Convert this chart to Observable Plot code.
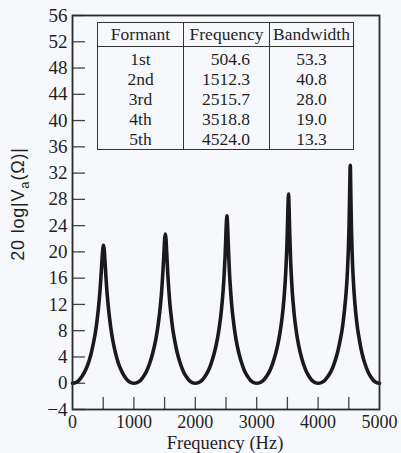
<!DOCTYPE html>
<html>
<head>
<meta charset="utf-8">
<script src="https://cdn.jsdelivr.net/npm/d3@7"></script>
<script src="https://cdn.jsdelivr.net/npm/@observablehq/plot@0.6"></script>
<style>
  html, body { margin: 0; padding: 0; background: #f6f8fc; }
  #wrap { position: relative; width: 401px; height: 453px; overflow: hidden; }
  #tbl {
    position: absolute; left: 97px; top: 22px;
    border-collapse: collapse; table-layout: fixed; width: 256px;
    font-family: "Liberation Serif", serif; font-size: 17.5px; color: #1f1f1f;
    background: #f6f8fc;
  }
  #tbl th, #tbl td { padding: 0; border-left: 1.5px solid #333; border-right: 1.5px solid #333; }
  #tbl th { font-weight: normal; height: 23px; line-height: 23px; border-top: 1.5px solid #333; border-bottom: 1.5px solid #333; text-align: center; }
  #tbl td { line-height: 20px; height: 20px; }
  #tbl tbody tr:first-child td { padding-top: 2px; }
  #tbl tbody tr:last-child td { border-bottom: 1.5px solid #333; }
  #tbl td.c0 { text-align: center; }
  #tbl td.c1 { text-align: right; padding-right: 19px; }
  #tbl td.c2 { text-align: center; }
</style>
</head>
<body>
<div id="wrap"></div>
<script>
// ---- data ----
const tableHeaders = ["Formant", "Frequency", "Bandwidth"];
const formantNames = ["1st", "2nd", "3rd", "4th", "5th"];
const formantFreqs = [504.6, 1512.3, 2515.7, 3518.8, 4524.0];
const formantBandwidths = [53.3, 40.8, 28.0, 19.0, 13.3];

const yTicks = [-4, 0, 4, 8, 12, 16, 20, 24, 28, 32, 36, 40, 44, 48, 52, 56];
const xTickMarks = [500, 1000, 1500, 2000, 2500, 3000, 3500, 4000, 4500];
const xTickLabels = [0, 1000, 2000, 3000, 4000, 5000];
const xTitle = "Frequency (Hz)";

// curve: frequency (Hz) and level (dB)
const freqHz = [
  0, 51, 101, 151, 202, 252, 303, 353, 379, 404, 424, 439, 454, 464, 474, 484, 495, 504.6,
  515, 524, 534, 544, 554, 569, 584, 604, 629, 653, 703, 752, 802, 851, 901, 951,
  1000, 1051, 1103, 1154, 1205, 1256, 1307, 1359, 1384, 1410, 1430, 1446, 1461, 1471, 1482, 1492, 1502, 1512.3,
  1522, 1532, 1542, 1551, 1561, 1576, 1590, 1610, 1634, 1659, 1707, 1756, 1805, 1854, 1903, 1951,
  2000, 2052, 2103, 2155, 2206, 2258, 2309, 2361, 2387, 2413, 2433, 2449, 2464, 2474, 2485, 2495, 2505, 2515.7,
  2525, 2535, 2545, 2554, 2564, 2579, 2593, 2613, 2637, 2661, 2709, 2758, 2806, 2855, 2903, 2952,
  3000, 3052, 3104, 3156, 3208, 3259, 3311, 3363, 3389, 3415, 3436, 3451, 3467, 3477, 3488, 3498, 3508, 3518.8,
  3528, 3538, 3548, 3557, 3567, 3581, 3596, 3615, 3639, 3663, 3711, 3759, 3808, 3856, 3904, 3952,
  4000, 4052, 4105, 4157, 4210, 4262, 4314, 4367, 4393, 4419, 4440, 4456, 4472, 4482, 4493, 4503, 4513, 4524,
  4534, 4543, 4553, 4562, 4572, 4586, 4600, 4619, 4643, 4667, 4714, 4762, 4810, 4857, 4905, 4952, 5000
];
const levelDb = [
  0, 0.1, 0.4, 1.0, 1.8, 2.9, 4.5, 6.7, 8.1, 9.9, 11.6, 13.1, 14.9, 16.3, 17.8, 19.3, 20.5, 21.0,
  20.5, 19.3, 17.8, 16.3, 14.9, 13.1, 11.6, 9.9, 8.1, 6.7, 4.5, 2.9, 1.8, 1.0, 0.4, 0.1,
  0, 0.1, 0.4, 1.0, 1.8, 3.0, 4.6, 6.8, 8.2, 10.0, 11.7, 13.3, 15.3, 16.8, 18.5, 20.3, 22.0, 22.7,
  22.0, 20.3, 18.5, 16.8, 15.3, 13.3, 11.7, 10.0, 8.2, 6.8, 4.6, 3.0, 1.8, 1.0, 0.4, 0.1,
  0, 0.1, 0.4, 1.0, 1.8, 3.0, 4.6, 6.8, 8.3, 10.1, 11.9, 13.6, 15.6, 17.3, 19.3, 21.7, 24.2, 25.5,
  24.2, 21.7, 19.3, 17.3, 15.6, 13.6, 11.9, 10.1, 8.3, 6.8, 4.6, 3.0, 1.8, 1.0, 0.4, 0.1,
  0, 0.1, 0.4, 1.0, 1.8, 3.0, 4.6, 6.8, 8.3, 10.1, 12.0, 13.7, 15.9, 17.7, 19.9, 22.8, 26.4, 28.8,
  26.4, 22.8, 19.9, 17.7, 15.9, 13.7, 12.0, 10.1, 8.3, 6.8, 4.6, 3.0, 1.8, 1.0, 0.4, 0.1,
  0, 0.1, 0.4, 1.0, 1.8, 3.0, 4.6, 6.9, 8.3, 10.2, 12.1, 13.8, 16.0, 17.9, 20.3, 23.6, 28.3, 33.2,
  28.3, 23.6, 20.3, 17.9, 16.0, 13.8, 12.1, 10.2, 8.3, 6.9, 4.6, 3.0, 1.8, 1.0, 0.4, 0.1, 0
];

// ---- build chart ----
const curve = freqHz.map((f, i) => ({f, db: levelDb[i]}));
const ink = "#1f1f1f";

const svg = Plot.plot({
  width: 401,
  height: 453,
  marginLeft: 72,
  marginRight: 22,
  marginTop: 15,
  marginBottom: 44,
  style: {background: "transparent", fontFamily: "Liberation Serif, serif", fontSize: "19px", color: ink, overflow: "visible"},
  x: {domain: [0, 5000]},
  y: {domain: [-4, 56]},
  marks: [
    Plot.axisY(yTicks, {tickSize: -13, fill: "none", label: null, stroke: "#444", strokeWidth: 1.3}),
    Plot.axisY(yTicks, {tickSize: 0, tickPadding: 5, tickFormat: "d", label: null, fontSize: 19, fill: ink}),
    Plot.axisX(xTickMarks, {tickSize: -12, fill: "none", label: null, stroke: "#444", strokeWidth: 1.3}),
    Plot.axisX(xTickLabels, {tickSize: 0, tickPadding: 5.5, tickFormat: "d", fontSize: 18, fill: ink, label: null}),
    Plot.line(curve, {x: "f", y: "db", curve: "catmull-rom", stroke: "#1a1a1a", strokeWidth: 3.6}),
    Plot.frame({stroke: "#2a2a2a", strokeWidth: 1.8})
  ]
});

// x-axis title
d3.select(svg).append("text")
  .attr("x", 225).attr("y", 448.5)
  .attr("text-anchor", "middle")
  .attr("fill", ink)
  .style("font-family", "'Liberation Serif', serif")
  .style("font-size", "18.5px")
  .text(xTitle);

// y-axis title with subscript
const yt = d3.select(svg).append("text")
  .attr("transform", "translate(23.5,204) rotate(-90)")
  .attr("text-anchor", "middle")
  .attr("fill", ink)
  .style("font-family", "'Liberation Sans', Arial, sans-serif")
  .style("font-size", "18px")
  .style("letter-spacing", "0.8px");
yt.append("tspan").text("20 log|V");
yt.append("tspan").attr("dy", "5").style("font-size", "13px").text("a");
yt.append("tspan").attr("dy", "-5").text("(Ω)|");

const wrap = document.getElementById("wrap");
wrap.appendChild(svg);

// formant table (HTML overlay)
const table = document.createElement("table");
table.id = "tbl";
const colgroup = document.createElement("colgroup");
[86, 86, 84].forEach(w => { const c = document.createElement("col"); c.style.width = w + "px"; colgroup.appendChild(c); });
table.appendChild(colgroup);
const thead = table.createTHead();
const hr = thead.insertRow();
tableHeaders.forEach(h => { const th = document.createElement("th"); th.textContent = h; hr.appendChild(th); });
const tbody = table.createTBody();
formantNames.forEach((name, i) => {
  const r = tbody.insertRow();
  [name, formantFreqs[i].toFixed(1), formantBandwidths[i].toFixed(1)].forEach((v, j) => {
    const td = r.insertCell(); td.className = "c" + j; td.textContent = v;
  });
});
wrap.appendChild(table);
</script>
</body>
</html>
